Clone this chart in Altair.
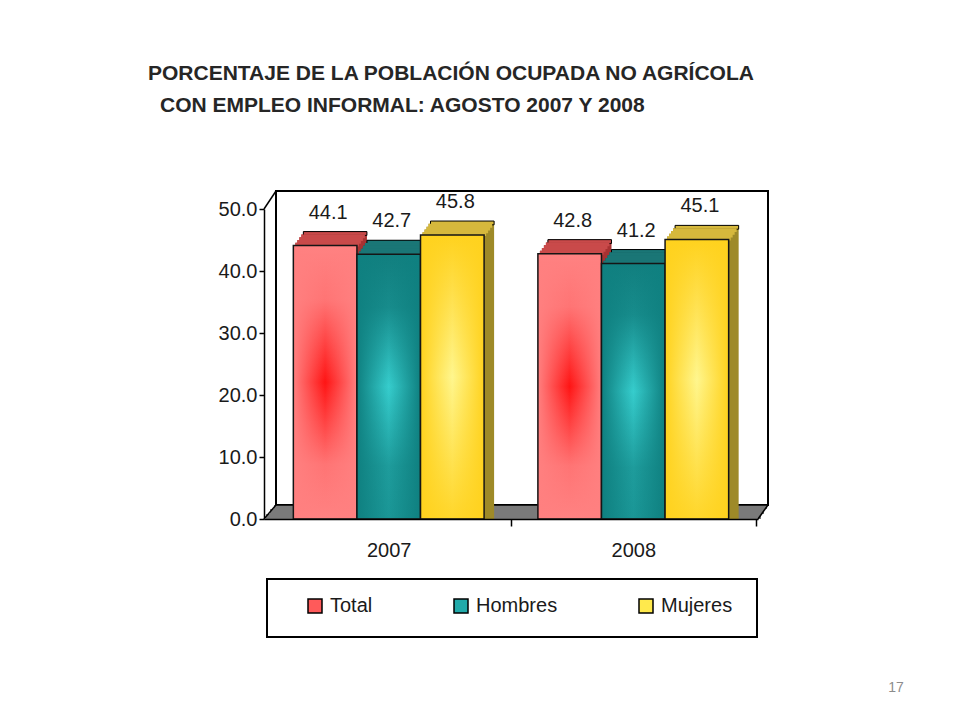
import altair as alt
import pandas as pd

# ---------------- data ----------------
YEARS = ["2007", "2008"]
SERIES = ["Total", "Hombres", "Mujeres"]
TOTAL = [44.1, 42.8]
HOMBRES = [42.7, 41.2]
MUJERES = [45.8, 45.1]
Y_TICKS = [0, 10, 20, 30, 40, 50]
TITLE_LINES = ["PORCENTAJE DE LA POBLACIÓN OCUPADA NO AGRÍCOLA",
               "CON EMPLEO INFORMAL: AGOSTO 2007 Y 2008"]
PAGE_NUMBER = ["17"]

rows = []
for name, vals in zip(SERIES, [TOTAL, HOMBRES, MUJERES]):
    for yr, v in zip(YEARS, vals):
        rows.append({"year": yr, "serie": name, "value": v})
df = pd.DataFrame(rows)
one = pd.DataFrame({"k": [0]})

# ---------------- style ----------------
FONT = "Liberation Sans"
INK = "#1a1a1a"
LEGEND_COLORS = ["#FF5A5A", "#22AAAA", "#FFE94C"]
SIDE_COLORS = ["#A83232", "#0B5A5A", "#9E8A28"]
TOP_COLORS = ["#C94A4A", "#1A7676", "#D6B83C"]
DX, DY, NSTEP = 10, -14, 5
STRIP_H = abs(DY) / NSTEP + 1
PLOT_W, PLOT_H = 494, 310
PAD_IN, PAD_OUT = 0.22, 0.12
STEP = PLOT_W / (len(YEARS) - PAD_IN + 2 * PAD_OUT)

V_GRAD = {
    "Total": ["#FF8282", "#FF7474", "#FF1414", "#FF7474", "#FF8282"],
    "Hombres": ["#117F7F", "#178C8C", "#36CDCD", "#1E9C9C", "#1A9696"],
    "Mujeres": ["#FFD21E", "#FFDF4A", "#FFF68E", "#FFE250", "#FFD62A"],
}
H_EDGE = {"Total": "255,128,128", "Hombres": "15,128,128", "Mujeres": "255,210,30"}


def vgrad(s):
    cols = V_GRAD[s]
    offs = [0, 0.2, 0.5, 0.8, 1]
    return {"gradient": "linear", "x1": 0, "y1": 0, "x2": 0, "y2": 1,
            "stops": [{"offset": o, "color": c} for o, c in zip(offs, cols)]}


def hgrad(s):
    e = H_EDGE[s]
    return {"gradient": "linear", "x1": 0, "y1": 0, "x2": 1, "y2": 0,
            "stops": [{"offset": 0, "color": f"rgba({e},1)"},
                      {"offset": 0.5, "color": f"rgba({e},0)"},
                      {"offset": 1, "color": f"rgba({e},1)"}]}


x_enc = alt.X("year:N", sort=YEARS,
              scale=alt.Scale(domain=YEARS, paddingInner=PAD_IN, paddingOuter=PAD_OUT),
              axis=alt.Axis(title=None, labelAngle=0, tickOffset=STEP / 2,
                            labelOffset=-STEP / 2, tickSize=7,
                            tickWidth=1.5, tickColor="black", domainColor="black",
                            domainWidth=1.5, labelFont=FONT, labelFontSize=20,
                            labelColor=INK, labelPadding=14, zindex=1))
y_enc = alt.Y("value:Q", stack=None,
              scale=alt.Scale(domain=[0, 50], nice=False),
              axis=alt.Axis(title=None, values=Y_TICKS, format=".1f", tickSize=5,
                            tickWidth=1.5, tickColor="black", domainColor="black",
                            domainWidth=1.5, labelFont=FONT, labelFontSize=20,
                            labelColor=INK, labelPadding=2, grid=False, zindex=1))


def xoff(shift):
    return alt.XOffset("serie:N", sort=SERIES,
                       scale=alt.Scale(type="band", domain=SERIES, paddingInner=0, paddingOuter=0,
                                       range=[{"expr": f"{shift}"},
                                              {"expr": f"bandwidth('x') + {shift}"}]))


def rect(x, x2, y, y2, **kw):
    return alt.Chart(one).mark_rect(**kw).encode(
        x=alt.value(x), x2=alt.value(x2), y=alt.value(y), y2=alt.value(y2))


def line(x, y, x2, y2, w=1.5):
    return alt.Chart(one).mark_rule(color="black", strokeWidth=w).encode(
        x=alt.value(x), y=alt.value(y), x2=alt.value(x2), y2=alt.value(y2))


layers = []
# back wall
layers.append(rect(12, 504, -18, 296, fill="white", stroke="black", strokeWidth=2))
# floor (stair approximation of the slanted floor)
layers.append(rect(2, 497, 305, 310, fill="#7a7a7a"))
layers.append(rect(6, 500, 300, 305, fill="#7a7a7a"))
layers.append(rect(10, 503, 296, 300, fill="#7a7a7a"))
layers.append(line(12, 296, 504, 296))
layers.append(line(0, 310, 12, 296))
layers.append(line(494, 310, 504, 296))
layers.append(line(0, 0, 12, -18))

ts = [(NSTEP - i) / NSTEP for i in range(NSTEP)]
# side faces
for t in ts:
    layers.append(alt.Chart(df).mark_bar(yOffset=t * DY, y2Offset=t * DY).encode(
        x=x_enc, xOffset=xoff(t * DX), y=y_enc,
        color=alt.Color("serie:N", scale=alt.Scale(domain=SERIES, range=SIDE_COLORS), legend=None)))
# top faces
for t in ts:
    kw = {"stroke": "black", "strokeWidth": 1} if t == 1 else {}
    layers.append(alt.Chart(df).mark_bar(yOffset=t * DY, y2Offset=t * DY + STRIP_H, **kw).encode(
        x=x_enc, xOffset=xoff(t * DX), y=y_enc, y2=alt.Y2("value:Q"),
        color=alt.Color("serie:N", scale=alt.Scale(domain=SERIES, range=TOP_COLORS), legend=None)))

# front faces (legend carrier)
layers.append(alt.Chart(df).mark_bar().encode(
    x=x_enc, xOffset=xoff(0), y=y_enc,
    color=alt.Color("serie:N", sort=SERIES,
                    scale=alt.Scale(domain=SERIES, range=LEGEND_COLORS),
                    legend=alt.Legend(title=None, orient="none", legendX=41, legendY=387,
                                      direction="horizontal", symbolType="square",
                                      symbolSize=196, symbolStrokeColor="black",
                                      symbolStrokeWidth=1.5, labelFont=FONT,
                                      labelFontSize=20, labelColor=INK, labelOffset=5,
                                      columnPadding=78, padding=0))))
for s in SERIES:
    layers.append(alt.Chart(df).transform_filter(alt.datum.serie == s).mark_bar(fill=vgrad(s)).encode(
        x=x_enc, xOffset=xoff(0), y=y_enc))
    layers.append(alt.Chart(df).transform_filter(alt.datum.serie == s).mark_bar(
        fill=hgrad(s), stroke="#151515", strokeWidth=1.5).encode(
        x=x_enc, xOffset=xoff(0), y=y_enc))

# value labels
layers.append(alt.Chart(df).mark_text(dx=3, dy=-27, baseline="alphabetic", fontSize=20,
                                      font=FONT, color=INK).encode(
    x=x_enc, xOffset=xoff(0), y=y_enc, text=alt.Text("value:Q", format=".1f")))

# title
tdf = pd.DataFrame({"t": TITLE_LINES})
for i, (xx, yy) in enumerate([(-116, -129), (-104, -97)]):
    layers.append(alt.Chart(tdf).transform_filter(alt.datum.t == TITLE_LINES[i]).mark_text(
        align="left", baseline="alphabetic", fontSize=21, font=FONT,
        fontWeight="bold", color="#262626").encode(
        x=alt.value(xx), y=alt.value(yy), text="t:N"))

# legend box
layers.append(rect(3, 493, 370, 428, fill="transparent", stroke="black", strokeWidth=2))

# page number
layers.append(alt.Chart(pd.DataFrame({"p": PAGE_NUMBER})).mark_text(
    align="center", baseline="alphabetic", fontSize=14, font=FONT, color="#8c8c8c").encode(
    x=alt.value(632), y=alt.value(483), text="p:N"))

chart = alt.layer(*layers).resolve_scale(
    color="independent", xOffset="independent"
).properties(
    width=PLOT_W, height=PLOT_H,
    autosize=alt.AutoSizeParams(type="none"),
    padding={"left": 256, "top": 201, "right": 194, "bottom": 193},
    background="white",
).configure_view(stroke=None)

chart.save("out.html", embed_options={"renderer": "svg", "actions": False})
